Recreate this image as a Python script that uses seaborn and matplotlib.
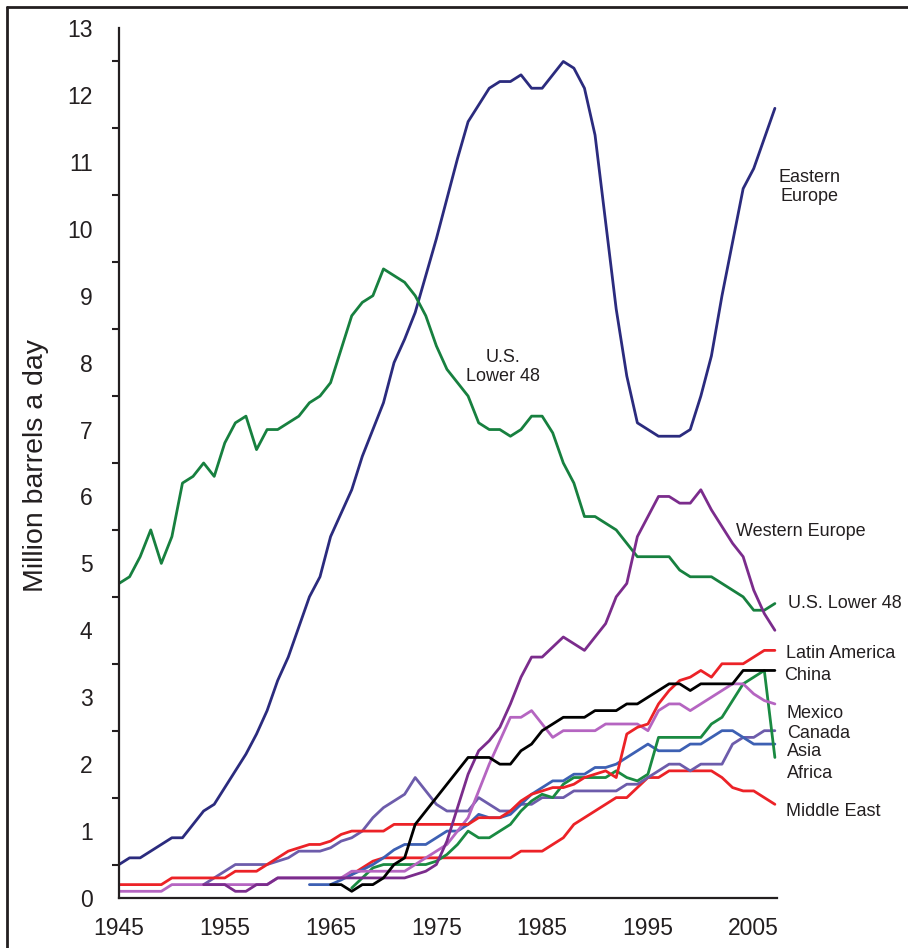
import matplotlib
matplotlib.use("Agg")
import matplotlib.pyplot as plt
import seaborn as sns
import pandas as pd
import numpy as np
from matplotlib.lines import Line2D

# ---------------- data ----------------
eastern_europe_years = list(range(1945, 2008))
eastern_europe = [0.5, 0.6, 0.6, 0.7, 0.8, 0.9, 0.9, 1.1, 1.3, 1.4,
                  1.65, 1.9, 2.15, 2.45, 2.8, 3.25, 3.6, 4.05, 4.5, 4.8,
                  5.4, 5.75, 6.1, 6.6, 7.0, 7.4, 8.0, 8.35, 8.75, 9.3,
                  9.85, 10.45, 11.05, 11.6, 11.85, 12.1, 12.2, 12.2, 12.3, 12.1,
                  12.1, 12.3, 12.5, 12.4, 12.1, 11.4, 10.1, 8.8, 7.8, 7.1,
                  7.0, 6.9, 6.9, 6.9, 7.0, 7.5, 8.1, 9.0, 9.8, 10.6,
                  10.9, 11.35, 11.8]

us_lower48_years = list(range(1945, 2008))
us_lower48 = [4.7, 4.8, 5.1, 5.5, 5.0, 5.4, 6.2, 6.3, 6.5, 6.3,
              6.8, 7.1, 7.2, 6.7, 7.0, 7.0, 7.1, 7.2, 7.4, 7.5,
              7.7, 8.2, 8.7, 8.9, 9.0, 9.4, 9.3, 9.2, 9.0, 8.7,
              8.25, 7.9, 7.7, 7.5, 7.1, 7.0, 7.0, 6.9, 7.0, 7.2,
              7.2, 6.95, 6.5, 6.2, 5.7, 5.7, 5.6, 5.5, 5.3, 5.1,
              5.1, 5.1, 5.1, 4.9, 4.8, 4.8, 4.8, 4.7, 4.6, 4.5,
              4.3, 4.3, 4.4]

western_europe_years = list(range(1953, 2008))
western_europe = [0.2, 0.2, 0.2, 0.1, 0.1, 0.2, 0.2,
                  0.3, 0.3, 0.3, 0.3, 0.3, 0.3, 0.3, 0.3, 0.3, 0.3, 0.3, 0.3, 0.3,
                  0.35, 0.4, 0.5, 0.85, 1.35, 1.85, 2.2, 2.35, 2.55, 2.9,
                  3.3, 3.6, 3.6, 3.75, 3.9, 3.8, 3.7, 3.9, 4.1, 4.5,
                  4.7, 5.4, 5.7, 6.0, 6.0, 5.9, 5.9, 6.1, 5.8, 5.55,
                  5.3, 5.1, 4.6, 4.25, 4.0]

latin_america_years = list(range(1945, 2008))
latin_america = [0.2, 0.2, 0.2, 0.2, 0.2, 0.3, 0.3, 0.3, 0.3, 0.3,
                 0.3, 0.4, 0.4, 0.4, 0.5,
                 0.6, 0.7, 0.75, 0.8, 0.8, 0.85, 0.95, 1.0, 1.0, 1.0, 1.0,
                 1.1, 1.1, 1.1, 1.1, 1.1, 1.1, 1.1, 1.1,
                 1.2, 1.2, 1.2, 1.3, 1.45, 1.55, 1.6, 1.65, 1.65, 1.7,
                 1.8, 1.85, 1.9, 1.8, 2.45, 2.55, 2.6, 2.9, 3.1, 3.25,
                 3.3, 3.4, 3.3, 3.5, 3.5, 3.5, 3.6, 3.7, 3.7]

china_years = list(range(1965, 2008))
china = [0.2, 0.2, 0.1, 0.2, 0.2, 0.3, 0.5, 0.6, 1.1, 1.3,
         1.5, 1.7, 1.9, 2.1, 2.1, 2.1, 2.0, 2.0, 2.2, 2.3,
         2.5, 2.6, 2.7, 2.7, 2.7, 2.8, 2.8, 2.8, 2.9, 2.9,
         3.0, 3.1, 3.2, 3.2, 3.1, 3.2, 3.2, 3.2, 3.2, 3.4,
         3.4, 3.4, 3.4]

mexico_years = list(range(1945, 2008))
mexico = [0.1, 0.1, 0.1, 0.1, 0.1,
          0.2, 0.2, 0.2, 0.2, 0.2, 0.2, 0.2, 0.2, 0.2, 0.2,
          0.3, 0.3, 0.3, 0.3, 0.3, 0.3, 0.3,
          0.4, 0.4, 0.4, 0.4, 0.4, 0.4,
          0.5, 0.6, 0.7, 0.8, 1.0, 1.2, 1.6, 2.0, 2.35, 2.7,
          2.7, 2.8, 2.6, 2.4, 2.5, 2.5, 2.5, 2.5, 2.6, 2.6,
          2.6, 2.6, 2.5, 2.8, 2.9, 2.9, 2.8, 2.9, 3.0, 3.1,
          3.2, 3.2, 3.05, 2.95, 2.9]

canada_years = list(range(1953, 2008))
canada = [0.2, 0.3, 0.4, 0.5, 0.5, 0.5, 0.5, 0.55, 0.6, 0.7,
          0.7, 0.7, 0.75, 0.85, 0.9, 1.0, 1.2, 1.35, 1.45, 1.55,
          1.8, 1.6, 1.4, 1.3, 1.3, 1.3, 1.5, 1.4, 1.3, 1.3,
          1.4, 1.4, 1.5, 1.5, 1.5, 1.6, 1.6, 1.6, 1.6, 1.6,
          1.7, 1.7, 1.8, 1.9, 2.0, 2.0, 1.9, 2.0, 2.0, 2.0,
          2.3, 2.4, 2.4, 2.5, 2.5]

asia_years = list(range(1963, 2008))
asia = [0.2, 0.2, 0.2, 0.27, 0.35, 0.42, 0.5, 0.6, 0.72, 0.8,
        0.8, 0.8, 0.9, 1.0, 1.0, 1.1, 1.25, 1.2, 1.2, 1.25,
        1.4, 1.55, 1.65, 1.75, 1.75, 1.85, 1.85, 1.95, 1.95, 2.0,
        2.1, 2.2, 2.3, 2.2, 2.2, 2.2, 2.3, 2.3, 2.4, 2.5,
        2.5, 2.4, 2.3, 2.3, 2.3]

africa_years = list(range(1967, 2008))
africa = [0.15, 0.3, 0.45, 0.5, 0.5, 0.5, 0.5, 0.5, 0.55, 0.65,
          0.8, 1.0, 0.9, 0.9, 1.0, 1.1, 1.3, 1.45, 1.55, 1.5,
          1.7, 1.8, 1.8, 1.8, 1.8, 1.9, 1.8, 1.75, 1.85, 2.4,
          2.4, 2.4, 2.4, 2.4, 2.6, 2.7, 2.95, 3.2, 3.3, 3.4,
          2.1]

middle_east_years = list(range(1966, 2008))
middle_east = [0.3, 0.35, 0.45, 0.55,
               0.6, 0.6, 0.6, 0.6, 0.6, 0.6, 0.6, 0.6, 0.6, 0.6, 0.6, 0.6, 0.6,
               0.7, 0.7, 0.7, 0.8, 0.9, 1.1, 1.2, 1.3, 1.4, 1.5,
               1.5, 1.65, 1.8, 1.8, 1.9, 1.9, 1.9, 1.9, 1.9, 1.8,
               1.65, 1.6, 1.6, 1.5, 1.4]

x_ticks = [1945, 1950, 1955, 1960, 1965, 1970, 1975, 1980, 1985, 1990, 1995, 2000, 2005]
x_tick_labels = ["1945", "", "1955", "", "1965", "", "1975", "", "1985", "", "1995", "", "2005"]
y_ticks = list(range(0, 14))

series = {
    "Eastern Europe": (eastern_europe_years, eastern_europe),
    "U.S. Lower 48": (us_lower48_years, us_lower48),
    "Middle East": (middle_east_years, middle_east),
    "Canada": (canada_years, canada),
    "Asia": (asia_years, asia),
    "Africa": (africa_years, africa),
    "Mexico": (mexico_years, mexico),
    "Latin America": (latin_america_years, latin_america),
    "Western Europe": (western_europe_years, western_europe),
    "China": (china_years, china),
}
palette = {
    "Eastern Europe": "#2b2b7e",
    "U.S. Lower 48": "#17803f",
    "Western Europe": "#7b2c8c",
    "Latin America": "#ec2227",
    "Middle East": "#ec2227",
    "China": "#000000",
    "Mexico": "#b565c1",
    "Canada": "#6d5cab",
    "Asia": "#3d60b3",
    "Africa": "#1a8a42",
}

frames = []
for name, (yrs, vals) in series.items():
    assert len(yrs) == len(vals), name
    frames.append(pd.DataFrame({"series": name, "year": yrs, "value": vals}))
df = pd.concat(frames, ignore_index=True)

# ---------------- figure ----------------
sns.set_style("white")
plt.rcParams["font.family"] = ["Liberation Sans", "DejaVu Sans"]
W, H = 908, 948
fig = plt.figure(figsize=(W / 100, H / 100), dpi=100)

def fx(px):
    return px / W

def fy(py):
    return 1 - py / H

ax = fig.add_axes([fx(119), fy(898), fx(777) - fx(119), fy(28) - fy(898)])

sns.lineplot(data=df, x="year", y="value", hue="series", palette=palette,
             hue_order=list(series.keys()), estimator=None, sort=True,
             linewidth=2.0, legend=False, ax=ax)

ax.set_xlim(1945, 2007.2)
ax.set_ylim(0, 13)
ax.set_xlabel("")
ax.set_ylabel("")
ax.set_xticks(x_ticks)
ax.set_xticklabels(x_tick_labels)
ax.set_yticks(y_ticks)
ax.set_yticks(np.arange(0.5, 13, 1.0), minor=True)
ax.tick_params(axis="both", which="major", labelsize=16.5, colors="#231f20",
               width=1.5, length=6, direction="out")
ax.tick_params(axis="y", which="major", pad=13)
ax.tick_params(axis="x", which="major", pad=8)
ax.tick_params(axis="y", which="minor", width=1.5, length=5, direction="out",
               colors="#231f20", left=True)
for side in ["top", "right"]:
    ax.spines[side].set_visible(False)
for side in ["left", "bottom"]:
    ax.spines[side].set_linewidth(1.6)
    ax.spines[side].set_color("#231f20")

# y axis label
fig.text(fx(36), fy(466), "Million barrels a day", rotation=90, ha="center",
         va="center", fontsize=20.5, color="#231f20")

# series labels
lab_kw = dict(fontsize=13, color="#231f20")
fig.text(fx(809), fy(187), "Eastern\nEurope", ha="center", va="center",
         linespacing=1.15, **lab_kw)
fig.text(fx(503), fy(367), "U.S.\nLower 48", ha="center", va="center",
         linespacing=1.1, **lab_kw)
fig.text(fx(736), fy(531), "Western Europe", ha="left", va="center", **lab_kw)
right_labels = [("U.S. Lower 48", 788, 603), ("Latin America", 786, 654),
                ("China", 784, 675), ("Mexico", 787, 713), ("Canada", 787, 733),
                ("Asia", 787, 752), ("Africa", 787, 773), ("Middle East", 786, 811)]
for txt, px, py in right_labels:
    fig.text(fx(px), fy(py), txt, ha="left", va="center", **lab_kw)

# outer frame
fig.add_artist(Line2D([fx(7), fx(7)], [fy(7), 0], color="#231f20", lw=2,
                      transform=fig.transFigure))
fig.add_artist(Line2D([fx(7), 1], [fy(7), fy(7)], color="#231f20", lw=2,
                      transform=fig.transFigure))

fig.savefig("out.png", dpi=100)
